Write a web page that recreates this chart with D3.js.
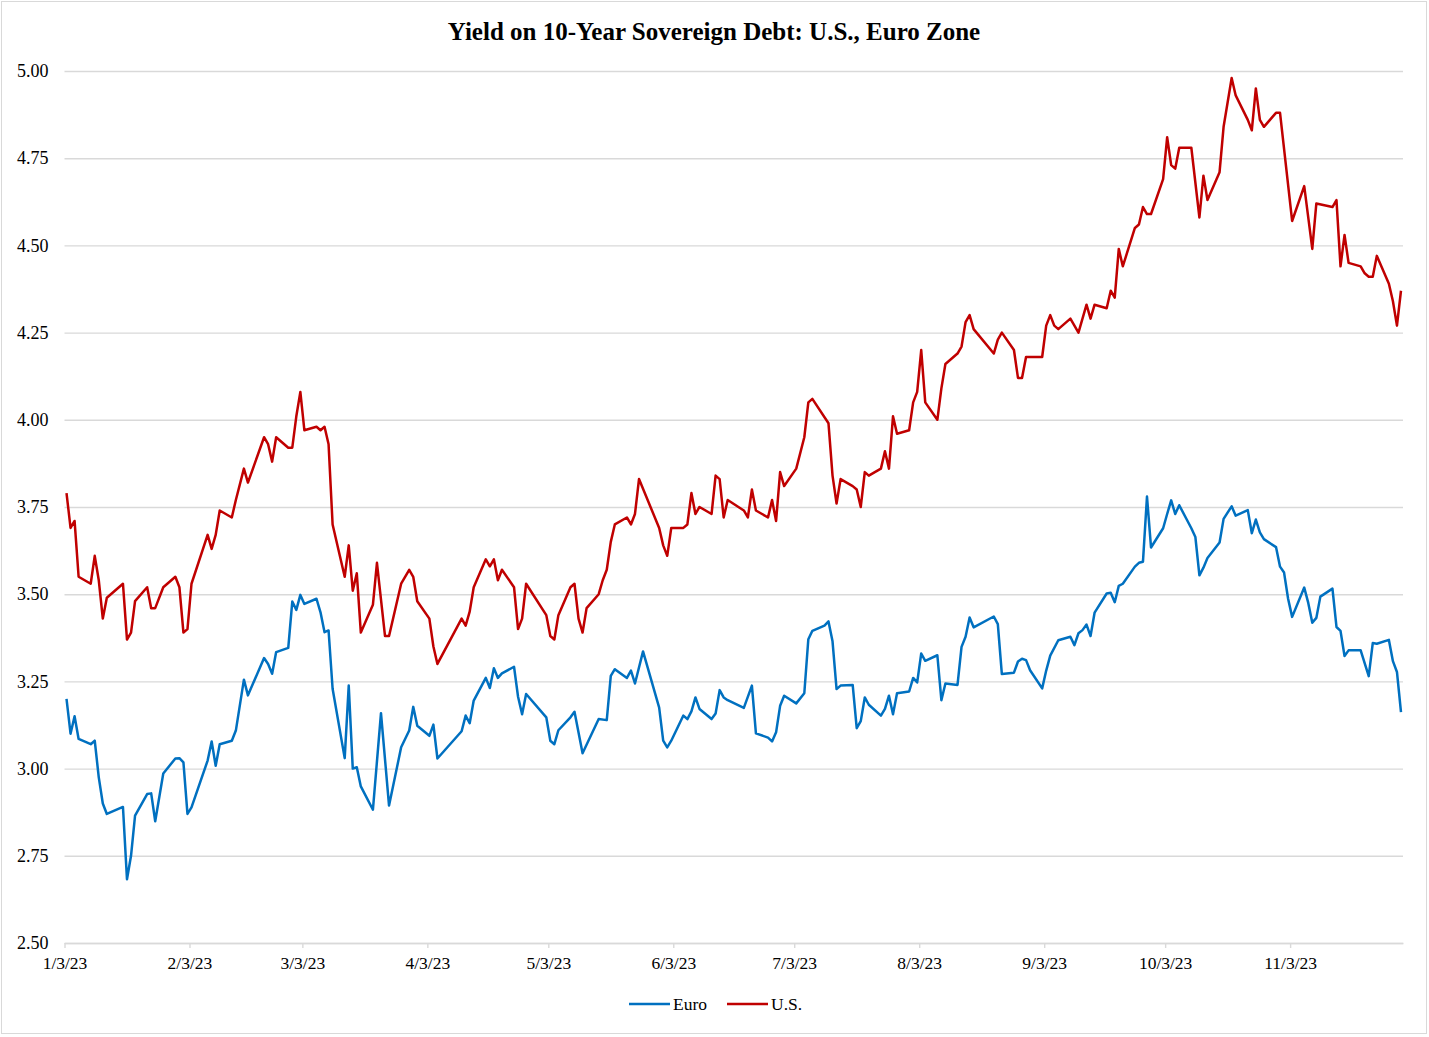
<!DOCTYPE html>
<html>
<head>
<meta charset="utf-8">
<script src="https://cdn.jsdelivr.net/npm/d3@7"></script>
<style>
  html, body { margin: 0; padding: 0; background: #ffffff; }
  svg { display: block; }
  text { font-family: "Liberation Serif", "Times New Roman", serif; fill: #000; }
</style>
</head>
<body>
<svg id="chart" width="1429" height="1037"></svg>
<script>
const chartTitle = "Yield on 10-Year Sovereign Debt: U.S., Euro Zone";
const seriesNames = ["Euro", "U.S."];
const seriesColors = ["#0070C0", "#C00000"];
const yTicks = [2.5, 2.75, 3.0, 3.25, 3.5, 3.75, 4.0, 4.25, 4.5, 4.75, 5.0];
const xTickLabels = ["1/3/23","2/3/23","3/3/23","4/3/23","5/3/23","6/3/23","7/3/23","8/3/23","9/3/23","10/3/23","11/3/23"];

const euroDates = ["1/3","1/4","1/5","1/6","1/9","1/10","1/11","1/12","1/13","1/17","1/18","1/19","1/20","1/23","1/24","1/25","1/27","1/30","1/31",
"2/1","2/2","2/3","2/7","2/8","2/9","2/10","2/13","2/14","2/16","2/17","2/21","2/22","2/23","2/24","2/27","2/28",
"3/1","3/2","3/3","3/6","3/7","3/8","3/9","3/10","3/13","3/14","3/15","3/16","3/17","3/20","3/22","3/24","3/27","3/29","3/30","3/31",
"4/3","4/4","4/5","4/11","4/12","4/13","4/14","4/17","4/18","4/19","4/20","4/21","4/24","4/25","4/26","4/27",
"5/2","5/3","5/4","5/5","5/8","5/9","5/11","5/15","5/17","5/18","5/19","5/22","5/23","5/24","5/26","5/30","5/31",
"6/1","6/2","6/5","6/6","6/7","6/8","6/9","6/12","6/13","6/14","6/15","6/16","6/20","6/22","6/23","6/26","6/27","6/28","6/29","6/30",
"7/3","7/5","7/6","7/7","7/10","7/11","7/12","7/13","7/14","7/17","7/18","7/19","7/20","7/21","7/24","7/25","7/26","7/27","7/28","7/31",
"8/1","8/2","8/3","8/4","8/7","8/8","8/9","8/12","8/13","8/14","8/15","8/16","8/21","8/22","8/23","8/26","8/27","8/28","8/29","8/30",
"9/2","9/3","9/4","9/6","9/9","9/10","9/11","9/12","9/13","9/14","9/15","9/18","9/19","9/20","9/21","9/22","9/25","9/26","9/27","9/28","9/29",
"10/2","10/3","10/4","10/5","10/6","10/9","10/10","10/11","10/12","10/13","10/16","10/17","10/19","10/20","10/23","10/24","10/25","10/26","10/27","10/30","10/31",
"11/1","11/2","11/3","11/6","11/7","11/8","11/9","11/10","11/13","11/14","11/15","11/16","11/17","11/20","11/22","11/23","11/24","11/27","11/28","11/29","11/30"];
const euroValues = [3.20,3.10,3.15,3.085,3.07,3.08,2.975,2.90,2.87,2.89,2.683,2.75,2.865,2.927,2.929,2.849,2.986,3.029,3.03,
3.018,2.87,2.889,3.023,3.078,3.008,3.07,3.08,3.109,3.255,3.21,3.317,3.30,3.272,3.334,3.346,3.479,
3.455,3.498,3.472,3.487,3.448,3.391,3.396,3.229,3.03,3.238,3.0,3.004,2.949,2.882,3.159,2.894,3.061,3.109,3.177,3.123,
3.094,3.126,3.029,3.107,3.152,3.13,3.195,3.26,3.231,3.288,3.26,3.273,3.292,3.206,3.156,3.214,
3.147,3.08,3.07,3.11,3.147,3.163,3.044,3.142,3.139,3.266,3.285,3.26,3.281,3.244,3.336,3.175,3.08,
3.061,3.08,3.152,3.142,3.164,3.204,3.171,3.142,3.158,3.225,3.204,3.196,3.174,3.238,3.101,3.089,3.078,3.104,3.18,3.209,
3.187,3.216,3.371,3.395,3.41,3.422,3.365,3.228,3.238,3.24,3.116,3.136,3.204,3.183,3.152,3.171,3.209,3.156,3.216,3.221,
3.26,3.247,3.33,3.309,3.325,3.196,3.244,3.24,3.349,3.378,3.433,3.405,3.436,3.414,3.271,3.275,3.307,3.315,3.311,3.282,
3.23,3.281,3.324,3.368,3.378,3.354,3.388,3.397,3.413,3.38,3.447,3.502,3.504,3.477,3.524,3.53,3.579,3.59,3.593,3.78,3.634,
3.689,3.73,3.769,3.73,3.755,3.689,3.664,3.554,3.576,3.604,3.648,3.716,3.752,3.725,3.741,3.675,3.714,3.677,3.658,3.635,3.579,
3.562,3.487,3.435,3.519,3.475,3.418,3.432,3.493,3.516,3.406,3.395,3.323,3.339,3.339,3.265,3.36,3.358,3.369,3.308,3.277,3.162];

const usDates = ["1/3","1/4","1/5","1/6","1/9","1/10","1/11","1/12","1/13","1/17","1/18","1/19","1/20","1/23","1/24","1/25","1/27","1/30","1/31",
"2/1","2/2","2/3","2/7","2/8","2/9","2/10","2/13","2/14","2/16","2/17","2/21","2/22","2/23","2/24","2/27","2/28",
"3/1","3/2","3/3","3/6","3/7","3/8","3/9","3/10","3/13","3/14","3/15","3/16","3/17","3/20","3/21","3/23","3/24","3/27","3/29","3/30","3/31",
"4/3","4/4","4/5","4/11","4/12","4/13","4/14","4/17","4/18","4/19","4/20","4/21","4/24","4/25","4/26","4/27",
"5/2","5/3","5/4","5/5","5/8","5/9","5/10","5/11","5/12","5/15","5/16","5/17","5/18","5/19","5/22","5/23","5/24","5/25","5/30","5/31",
"6/1","6/2","6/5","6/6","6/7","6/8","6/9","6/12","6/13","6/14","6/15","6/16","6/20","6/21","6/22","6/23","6/26","6/27","6/28","6/29","6/30",
"7/3","7/5","7/6","7/7","7/11","7/12","7/13","7/14","7/17","7/18","7/19","7/20","7/21","7/24","7/25","7/26","7/27","7/28","7/31",
"8/1","8/2","8/3","8/4","8/7","8/8","8/9","8/12","8/13","8/14","8/15","8/16","8/21","8/22","8/23","8/26","8/27","8/28","8/29",
"9/2","9/3","9/4","9/5","9/6","9/9","9/11","9/13","9/14","9/15","9/18","9/19","9/20","9/21","9/22","9/25","9/26","9/27","9/28","9/29",
"10/2","10/3","10/4","10/5","10/6","10/9","10/11","10/12","10/13","10/16","10/17","10/19","10/20","10/23","10/24","10/25","10/26","10/27","10/30","10/31",
"11/3","11/6","11/8","11/9","11/13","11/14","11/15","11/16","11/17","11/20","11/21","11/22","11/23","11/24","11/27","11/28","11/29","11/30"];
const usValues = [3.79,3.69,3.71,3.55,3.53,3.61,3.54,3.43,3.49,3.53,3.37,3.39,3.48,3.52,3.46,3.46,3.52,3.55,3.52,
3.39,3.40,3.53,3.67,3.63,3.67,3.74,3.72,3.77,3.86,3.82,3.95,3.93,3.88,3.95,3.92,3.92,
4.01,4.08,3.97,3.98,3.97,3.98,3.93,3.70,3.55,3.64,3.51,3.56,3.39,3.47,3.59,3.38,3.38,3.53,3.57,3.55,3.48,
3.43,3.35,3.30,3.43,3.41,3.45,3.52,3.60,3.58,3.60,3.54,3.57,3.52,3.40,3.43,3.53,
3.44,3.38,3.37,3.44,3.52,3.53,3.43,3.39,3.46,3.50,3.54,3.57,3.65,3.70,3.72,3.70,3.73,3.83,3.69,3.64,
3.61,3.69,3.69,3.70,3.79,3.73,3.75,3.73,3.84,3.83,3.72,3.77,3.74,3.72,3.80,3.74,3.72,3.77,3.71,3.85,3.81,
3.86,3.95,4.05,4.06,3.99,3.84,3.76,3.83,3.81,3.80,3.75,3.85,3.84,3.86,3.91,3.86,4.01,3.96,3.97,
4.05,4.08,4.20,4.05,4.00,4.09,4.16,4.19,4.21,4.28,4.30,4.26,4.19,4.23,4.25,4.20,4.12,4.12,4.18,
4.18,4.27,4.30,4.27,4.26,4.29,4.25,4.33,4.29,4.33,4.32,4.37,4.35,4.49,4.44,4.55,4.56,4.61,4.59,4.59,
4.69,4.81,4.73,4.72,4.78,4.78,4.58,4.70,4.63,4.71,4.84,4.98,4.93,4.86,4.83,4.95,4.86,4.84,4.88,4.88,
4.57,4.67,4.49,4.62,4.61,4.63,4.44,4.53,4.45,4.44,4.42,4.41,4.41,4.47,4.39,4.34,4.27,4.37];

// ---- build ----
const parseDay = s => d3.timeParse("%m/%d/%Y")(s + "/2023");
const parseTick = d3.timeParse("%m/%d/%y");
const toPoints = (dates, values) => d3.range(Math.min(dates.length, values.length))
  .map(i => ({ date: parseDay(dates[i]), value: values[i] }));
const series = [
  { name: seriesNames[0], color: seriesColors[0], points: toPoints(euroDates, euroValues) },
  { name: seriesNames[1], color: seriesColors[1], points: toPoints(usDates, usValues) }
];

const svg = d3.select("#chart");
const W = 1429, H = 1037;
const plot = { left: 64.5, right: 1403, top: 71, bottom: 943 };

svg.append("rect").attr("x", 1.5).attr("y", 1.5).attr("width", W - 4).attr("height", H - 5)
  .attr("fill", "#fff").attr("stroke", "#d9d9d9").attr("stroke-width", 1);

const x = d3.scaleTime()
  .domain([new Date(2023, 0, 3), new Date(2023, 11, 1)])
  .range([plot.left, plot.right]);
const y = d3.scaleLinear().domain([2.5, 5]).range([plot.bottom, plot.top]);

// y axis with gridlines
const yAxis = svg.append("g").attr("transform", `translate(${plot.left},0)`)
  .call(d3.axisLeft(y).tickValues(yTicks).tickFormat(d3.format(".2f"))
    .tickSize(-(plot.right - plot.left)).tickPadding(16));
yAxis.select(".domain").remove();
yAxis.selectAll(".tick line").attr("stroke", "#d9d9d9").attr("stroke-width", 1.4);
yAxis.selectAll(".tick text").attr("font-size", "18px")
  .attr("font-family", "'Liberation Serif', 'Times New Roman', serif").attr("fill", "#000");

// x axis
const xAxis = svg.append("g").attr("transform", `translate(0,${plot.bottom})`)
  .call(d3.axisBottom(x).tickValues(xTickLabels.map(parseTick))
    .tickFormat(d3.timeFormat("%-m/%-d/%y")).tickSize(5).tickPadding(9).tickSizeOuter(0));
xAxis.select(".domain").attr("stroke", "#d9d9d9").attr("stroke-width", 1.4);
xAxis.selectAll(".tick line").attr("stroke", "#d9d9d9").attr("stroke-width", 1.4);
xAxis.selectAll(".tick text").attr("font-size", "17.5px")
  .attr("font-family", "'Liberation Serif', 'Times New Roman', serif").attr("fill", "#000");

// lines (points sit at the middle of each day)
const line = d3.line().x(d => x(d3.timeHour.offset(d.date, 12))).y(d => y(d.value));
svg.append("g").selectAll("path").data(series).join("path")
  .attr("d", d => line(d.points))
  .attr("fill", "none")
  .attr("stroke", d => d.color)
  .attr("stroke-width", 2.5)
  .attr("stroke-linejoin", "round");

// title
svg.append("text").attr("x", 714).attr("y", 40).attr("text-anchor", "middle")
  .attr("font-size", "25px").attr("font-weight", "bold").text(chartTitle);

// legend
const legendItems = [
  { name: seriesNames[0], color: seriesColors[0], x: 629 },
  { name: seriesNames[1], color: seriesColors[1], x: 727 }
];
const lg = svg.append("g").selectAll("g").data(legendItems).join("g")
  .attr("transform", d => `translate(${d.x},1004)`);
lg.append("line").attr("x1", 0).attr("x2", 41).attr("y1", 0).attr("y2", 0)
  .attr("stroke", d => d.color).attr("stroke-width", 2.5);
lg.append("text").attr("x", 44).attr("y", 6).attr("font-size", "17.5px").text(d => d.name);
</script>
</body>
</html>
